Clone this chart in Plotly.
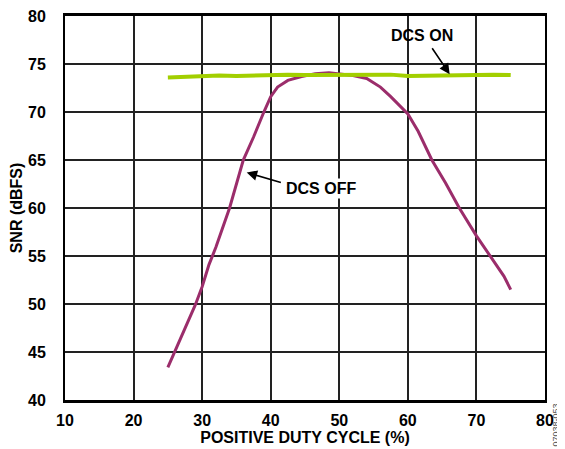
import plotly.graph_objects as go

# DCS OFF curve (purple)
off_x = [25, 27, 29, 30, 31, 32, 34, 36, 37.5, 39, 40, 41, 42.5, 44.5, 46.5, 48.5,
         50, 52, 54, 56, 57.5, 60, 61.5, 63.5, 65.5, 67.5, 70, 72, 74, 75]
off_y = [43.4, 46.7, 49.9, 51.8, 54.1, 55.9, 60.0, 65.0, 67.4, 70.0, 71.6, 72.6, 73.3,
         73.7, 74.0, 74.1, 74.0, 73.8, 73.5, 72.6, 71.6, 69.8, 68.0, 65.0, 62.6, 60.0,
         57.1, 55.0, 52.9, 51.5]

# DCS ON curve (green)
on_x = [25, 27.5, 30, 32.5, 35, 37.5, 40, 42.5, 45, 47.5, 50, 52.5, 55, 57.5, 60,
        62.5, 65, 67.5, 70, 72.5, 75]
on_y = [73.6, 73.7, 73.8, 73.8, 73.75, 73.8, 73.9, 73.9, 73.85, 73.85, 73.9, 73.85,
        73.9, 73.9, 73.75, 73.8, 73.85, 73.9, 73.95, 73.9, 73.85]

x_ticks = [10, 20, 30, 40, 50, 60, 70, 80]
y_ticks = [40, 45, 50, 55, 60, 65, 70, 75, 80]

FONT = "Liberation Sans, Arial, sans-serif"

fig = go.Figure()
fig.add_trace(go.Scatter(x=off_x, y=off_y, mode="lines", line=dict(color="#9b2d6b", width=3)))
fig.add_trace(go.Scatter(x=on_x, y=on_y, mode="lines", line=dict(color="#a2cf00", width=4)))

axis_common = dict(
    showgrid=True, gridcolor="#222222", gridwidth=1.5,
    showline=True, linecolor="black", mirror=True,
    zeroline=False, ticks="", automargin=False,
    tickfont=dict(family=FONT, size=16, color="black"),
)

fig.update_xaxes(range=[10, 80], tickvals=x_ticks, ticktext=[f"<b>{v}</b>" for v in x_ticks],
                 linewidth=2.5, ticklabelstandoff=4,
                 title=dict(text="<b>POSITIVE DUTY CYCLE (%)</b>", font=dict(family=FONT, size=16, color="black"), standoff=2),
                 **axis_common)
fig.update_yaxes(range=[39.99, 80.01], tickvals=y_ticks, ticktext=[f"<b>{v}</b>" for v in y_ticks],
                 linewidth=2, ticklabelstandoff=14, ticklabeloverflow="allow",
                 title=dict(text="<b>SNR (dBFS)</b>", font=dict(family=FONT, size=16, color="black"), standoff=1),
                 **axis_common)

fig.add_annotation(x=66.1, y=73.95, ax=63.4, ay=76.8, xref="x", yref="y", axref="x", ayref="y",
                   text="", showarrow=True, arrowhead=2, arrowsize=1.3, arrowwidth=1.6, arrowcolor="black")
fig.add_annotation(x=62.1, y=78.0, text="<b>DCS ON</b>", showarrow=False, xref="x", yref="y",
                   font=dict(family=FONT, size=16, color="black"))
fig.add_annotation(x=36.5, y=63.7, ax=41.7, ay=62.6, xref="x", yref="y", axref="x", ayref="y",
                   text="", showarrow=True, arrowhead=2, arrowsize=1.3, arrowwidth=1.6, arrowcolor="black")
fig.add_annotation(x=47.4, y=62.0, text="<b>DCS OFF</b>", showarrow=False, xref="x", yref="y",
                   font=dict(family=FONT, size=16, color="black"), bgcolor="white")
fig.add_annotation(x=1.0, y=0.0, xref="paper", yref="paper", xanchor="left", yanchor="top",
                   xshift=3, yshift=-2, text="07038-053", textangle=-90, showarrow=False,
                   font=dict(family=FONT, size=9, color="#555555"))

# page body adds an 8px offset, so the figure is sized to fit the window
fig.update_layout(
    width=557, height=441,
    margin=dict(l=57, r=20, t=8, b=49),
    paper_bgcolor="white", plot_bgcolor="white",
    showlegend=False,
    font=dict(family=FONT, color="black"),
)

fig.write_html("out.html")
